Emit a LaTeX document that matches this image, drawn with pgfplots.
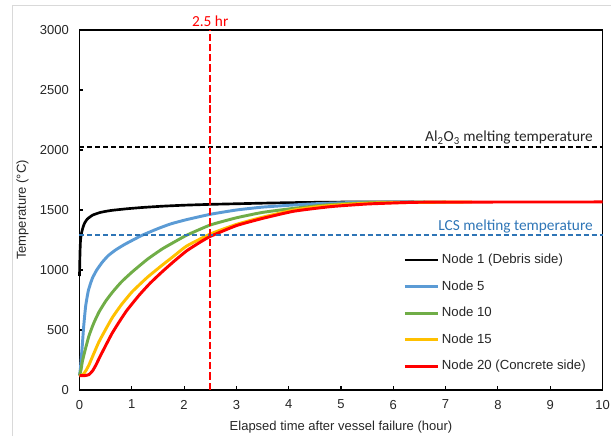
\documentclass[border=0pt]{standalone}
\usepackage{fontspec}
\setmainfont{Liberation Sans}
\newfontfamily\carlito{Carlito}
\usepackage{pgfplots}
\pgfplotsset{compat=1.18}
\definecolor{cBlue}{HTML}{5B9BD5}
\definecolor{cGreen}{HTML}{70AD47}
\definecolor{cOrange}{HTML}{FFC000}
\definecolor{cRed}{HTML}{FF0000}
\definecolor{cLCS}{HTML}{2E75B6}
\definecolor{cTxt}{HTML}{262626}
\begin{document}
\begin{tikzpicture}
\path[use as bounding box] (-59.625pt,-34.5pt) rectangle (398.625pt,292.5pt);
\begin{axis}[
  at={(0,0)}, anchor=south west,
  scale only axis, width=392.25pt, height=270pt,
  xmin=0, xmax=10, ymin=0, ymax=3000,
  xtick={0,...,10}, ytick={0,500,...,3000},
  tick align=inside, xtick pos=left, ytick pos=left,
  major tick length=3pt,
  axis line style={line width=1pt, black},
  tick style={black, line width=0.8pt},
  /pgf/number format/assume math mode=true,
  /pgf/number format/1000 sep={},
  tick label style={font=\fontsize{9.75}{11}\selectfont, text=cTxt},
  xticklabel style={yshift=-4pt},
  yticklabel style={xshift=-4.5pt},
  label style={font=\fontsize{9.75}{11}\selectfont, text=cTxt},
  xlabel={Elapsed time after vessel failure (hour)},
  ylabel={Temperature (°C)},
  xlabel style={at={(axis description cs:0.5,-0.103)}, anchor=center},
  ylabel style={at={(axis description cs:-0.109,0.5)}, anchor=center},
  clip=false,
  legend style={at={(rel axis cs:0.6186,0.385)}, anchor=north west, draw=none, fill=none,
    font=\fontsize{9.9}{11}\selectfont, text=cTxt, row sep=7.2pt, inner sep=0pt},
  legend image code/.code={\draw[#1] (0pt,0pt) -- (24.75pt,0pt);},
  legend cell align=left,
]
\addplot[black, line width=2pt, smooth, tension=0.3] coordinates {
(0,950) (0.01,1150) (0.02,1250) (0.04,1310) (0.07,1360) (0.1,1393) (0.15,1425) (0.25,1457) (0.4,1480) (0.6,1496) (0.9,1510) (1.2,1521) (1.6,1532) (2,1540) (2.5,1547) (3,1552) (3.5,1557) (4,1561) (4.5,1564) (5,1566) (6.4,1567)};
\addlegendentry{Node 1 (Debris side)}
\addplot[cBlue, line width=2.2pt, smooth, tension=0.3] coordinates {
(0,120) (0.02,190) (0.054,375) (0.08,530) (0.118,700) (0.17,830) (0.245,930) (0.33,1000) (0.436,1065) (0.55,1120) (0.69,1167) (0.85,1210) (1.0,1245) (1.2,1290) (1.5,1345) (1.75,1385) (2.05,1420) (2.5,1464) (3,1500) (3.5,1524) (4.1,1542) (4.6,1554) (5.3,1563) (6.6,1567)};
\addlegendentry{Node 5}
\addplot[cGreen, line width=2.2pt, smooth, tension=0.3] coordinates {
(0,120) (0.03,170) (0.054,236) (0.1,320) (0.18,450) (0.27,555) (0.373,650) (0.5,740) (0.63,815) (0.8,900) (1.01,985) (1.3,1090) (1.58,1175) (1.8,1230) (2.05,1290) (2.5,1375) (3,1435) (3.5,1480) (4.1,1514) (4.6,1538) (5.1,1553) (5.6,1562) (7,1567)};
\addlegendentry{Node 10}
\addplot[cOrange, line width=2.2pt, smooth, tension=0.3] coordinates {
(0,120) (0.06,125) (0.12,160) (0.18,208) (0.27,300) (0.37,400) (0.5,505) (0.63,605) (0.8,710) (1.01,820) (1.3,940) (1.58,1040) (1.8,1115) (2.05,1200) (2.5,1300) (3,1380) (3.5,1440) (4.1,1500) (4.6,1530) (5.2,1550) (5.8,1560) (7.5,1567)};
\addlegendentry{Node 15}
\addplot[cRed, line width=2.2pt, smooth, tension=0.3] coordinates {
(0,120) (0.1,120) (0.18,128) (0.25,160) (0.31,205) (0.4,285) (0.5,370) (0.62,470) (0.755,565) (0.9,660) (1.14,790) (1.35,890) (1.58,985) (1.8,1070) (2.05,1160) (2.3,1230) (2.5,1280) (3,1370) (3.5,1430) (4.1,1490) (4.8,1528) (5.5,1550) (6.3,1563) (7,1566) (10,1567)};
\addlegendentry{Node 20 (Concrete side)}
% reference lines
\addplot[black, line width=1.2pt, dash pattern=on 3.75pt off 2.25pt, forget plot] coordinates {(0,2027) (10,2027)};
\addplot[cLCS, line width=1.2pt, dash pattern=on 3.75pt off 2.25pt, forget plot] coordinates {(0,1290) (10,1290)};
\addplot[cRed, line width=1.5pt, dash pattern=on 5.5pt off 2.2pt, forget plot] coordinates {(2.5,0) (2.5,3000)};
\node[anchor=base east, inner sep=0pt, font=\carlito\fontsize{11.5}{13}\selectfont, text=cTxt] at (axis cs:9.82,2069) {Al\textsubscript{2}O\textsubscript{3} melting temperature};
\node[anchor=base east, inner sep=0pt, font=\carlito\fontsize{11.5}{13}\selectfont, text=cLCS] at (axis cs:9.82,1332) {LCS melting temperature};
\node[anchor=center, inner sep=0pt, font=\carlito\fontsize{11.5}{13}\selectfont, text=cRed] at (axis cs:2.5,3075) {2.5 hr};
\end{axis}
\draw[black!15, line width=0.75pt] (-50.6pt,-34.5pt) -- (-50.6pt,288pt) -- (398.625pt,288pt);
\end{tikzpicture}
\end{document}
